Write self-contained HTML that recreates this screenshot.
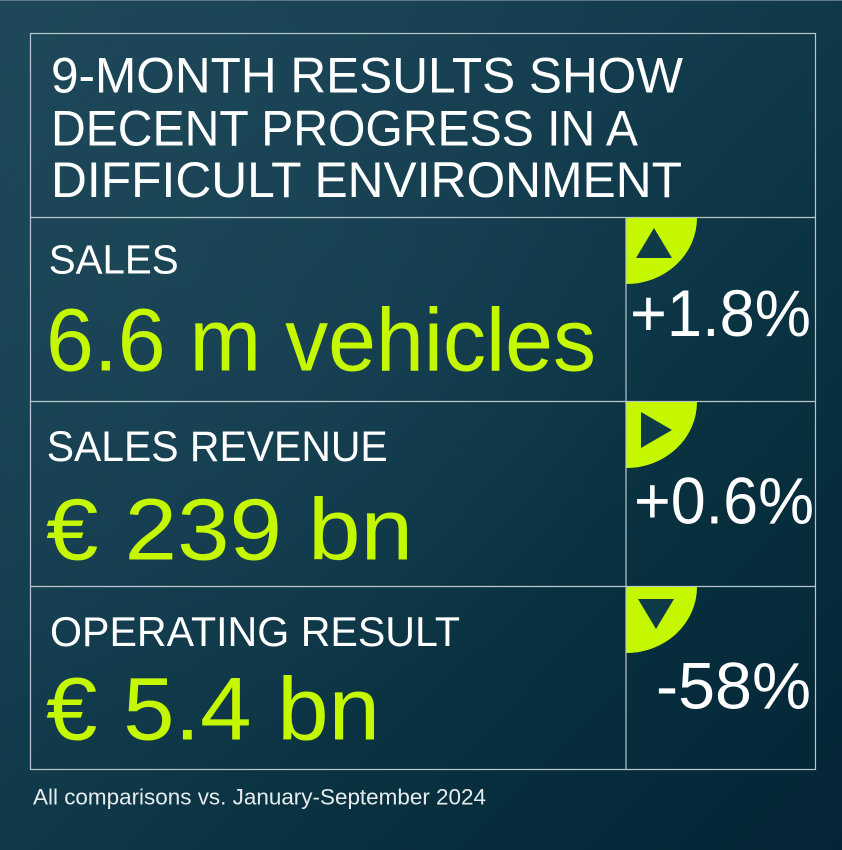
<!DOCTYPE html>
<html>
<head>
<meta charset="utf-8">
<style>
  html, body { margin: 0; padding: 0; }
  body { width: 842px; height: 850px; overflow: hidden; background: #0c3244; }
  svg { display: block; }
  text { font-family: "Liberation Sans", "DejaVu Sans", sans-serif; }
</style>
</head>
<body>
<svg width="842" height="850" viewBox="0 0 842 850" xmlns="http://www.w3.org/2000/svg">
  <defs>
    <linearGradient id="bg" x1="0" y1="0" x2="1" y2="1">
      <stop offset="0" stop-color="#1e4859"/>
      <stop offset="0.4" stop-color="#133d4e"/>
      <stop offset="0.7" stop-color="#08303f"/>
      <stop offset="1" stop-color="#042535"/>
    </linearGradient>
    <radialGradient id="glow" cx="0.2" cy="0.3" r="0.6">
      <stop offset="0" stop-color="#1f4a5b" stop-opacity="0.5"/>
      <stop offset="1" stop-color="#1f4a5b" stop-opacity="0"/>
    </radialGradient>
  </defs>
  <rect x="0" y="0" width="842" height="850" fill="url(#bg)"/>
  <rect x="0" y="0" width="842" height="850" fill="url(#glow)"/>
  <line x1="0" y1="0.5" x2="842" y2="0.5" stroke="#5c7a86" stroke-width="1"/>

  <!-- grid lines -->
  <g stroke="#b9c6cb" stroke-width="1.2" fill="none">
    <rect x="30.5" y="33.5" width="785" height="736"/>
    <line x1="30.5" y1="217.5" x2="815.5" y2="217.5"/>
    <line x1="30.5" y1="401.5" x2="815.5" y2="401.5"/>
    <line x1="30.5" y1="586.5" x2="815.5" y2="586.5"/>
    <line x1="626" y1="217.5" x2="626" y2="769.5"/>
  </g>

  <!-- title -->
  <g fill="#ffffff" font-size="50">
    <text x="51" y="92.7" textLength="632" lengthAdjust="spacingAndGlyphs">9-MONTH RESULTS SHOW</text>
    <text x="51" y="145.5" textLength="587" lengthAdjust="spacingAndGlyphs">DECENT PROGRESS IN A</text>
    <text x="51" y="197" textLength="631" lengthAdjust="spacingAndGlyphs">DIFFICULT ENVIRONMENT</text>
  </g>

  <!-- labels -->
  <g fill="#ffffff">
    <text x="48.7" y="273.3" font-size="41" textLength="130" lengthAdjust="spacingAndGlyphs">SALES</text>
    <text x="46.7" y="461" font-size="43" textLength="341" lengthAdjust="spacingAndGlyphs">SALES REVENUE</text>
    <text x="50" y="646" font-size="42" textLength="410" lengthAdjust="spacingAndGlyphs">OPERATING RESULT</text>
  </g>

  <!-- values -->
  <g fill="#c5f800">
    <text x="46" y="370.7" font-size="89" textLength="550" lengthAdjust="spacingAndGlyphs">6.6 m vehicles</text>
    <text x="46" y="559.3" font-size="87" textLength="367" lengthAdjust="spacingAndGlyphs">€ 239 bn</text>
    <text x="46" y="739.3" font-size="89" textLength="334" lengthAdjust="spacingAndGlyphs">€ 5.4 bn</text>
  </g>

  <!-- quarter badges -->
  <g fill="#c5f800">
    <path d="M626.5,218 H697 A70.5,66 0 0 1 626.5,284 Z"/>
    <path d="M626.5,402 H697 A70.5,66 0 0 1 626.5,468 Z"/>
    <path d="M626.5,587 H697 A70.5,66 0 0 1 626.5,653 Z"/>
  </g>
  <g fill="#0f3b48">
    <polygon points="636,258 672,258 654,228"/>
    <polygon points="641,412 641,448 672,430"/>
    <polygon points="638,599 674,599 656,629"/>
  </g>

  <!-- percentages -->
  <g fill="#ffffff" font-size="66">
    <text x="630" y="336" textLength="181" lengthAdjust="spacingAndGlyphs">+1.8%</text>
    <text x="634" y="523.3" textLength="180" lengthAdjust="spacingAndGlyphs">+0.6%</text>
    <text x="656" y="708.3" textLength="155" lengthAdjust="spacingAndGlyphs">-58%</text>
  </g>

  <!-- footer -->
  <text x="33" y="804.3" fill="#e6eced" font-size="22" textLength="453" lengthAdjust="spacingAndGlyphs">All comparisons vs. January-September 2024</text>
</svg>
</body>
</html>
